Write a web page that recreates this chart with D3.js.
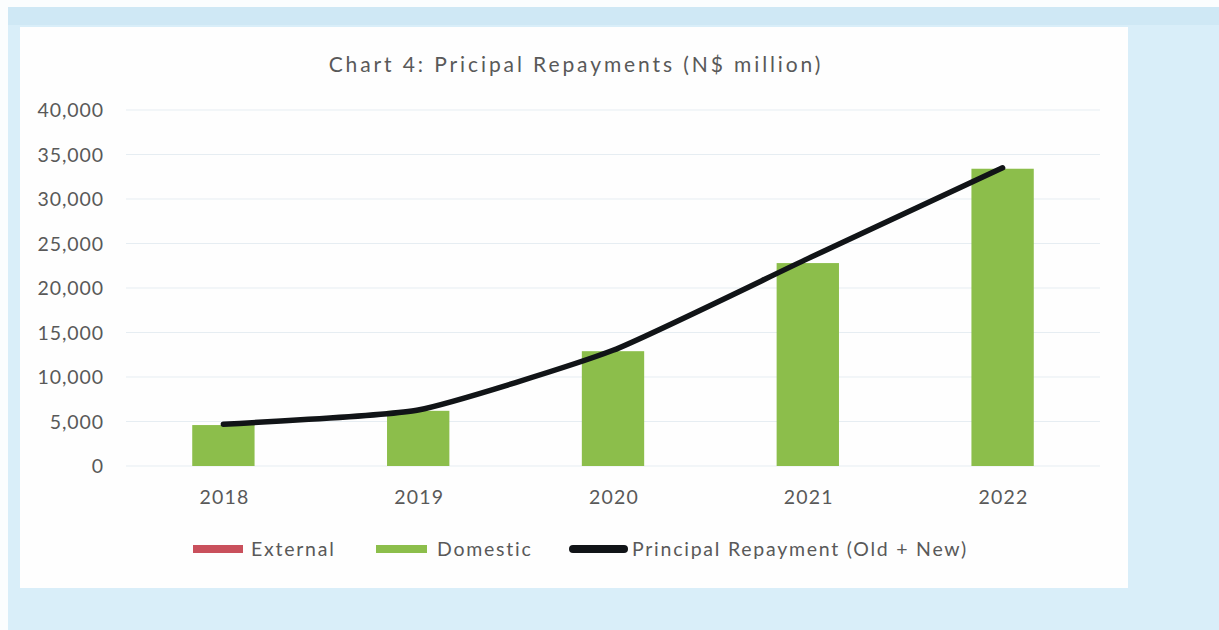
<!DOCTYPE html>
<html>
<head>
<meta charset="utf-8">
<script src="https://cdn.jsdelivr.net/npm/d3@7"></script>
<style>
  html, body { margin: 0; padding: 0; background: #fbfdfe; }
  svg { display: block; }
  text { font-family: Lato, "Open Sans", sans-serif; fill: #595959; }
</style>
</head>
<body>
<svg id="chart" width="1219" height="630"></svg>
<script>
// Principal repayments, N$ million
const years = ["2018", "2019", "2020", "2021", "2022"];
const external = [0, 0, 0, 0, 0];
const domestic = [4600, 6200, 12900, 22800, 33400];
const principalTotal = [4700, 6300, 13000, 23300, 33500];
const yTicks = [0, 5000, 10000, 15000, 20000, 25000, 30000, 35000, 40000];

const svg = d3.select("#chart");

// page backdrop and white chart panel
svg.append("rect").attr("x", 8).attr("y", 7).attr("width", 1211).attr("height", 623).attr("fill", "#d9eef9");
svg.append("rect").attr("x", 8).attr("y", 7).attr("width", 1211).attr("height", 18).attr("fill", "#cfe8f5");
svg.append("rect").attr("x", 20).attr("y", 27).attr("width", 1108).attr("height", 561).attr("fill", "#fefefe");

const plot = { left: 126, right: 1100, top: 110, bottom: 466 };

const x = d3.scaleBand().domain(years).range([plot.left, plot.right])
  .paddingInner(0.68).paddingOuter(0.34);
const y = d3.scaleLinear().domain([0, 40000]).range([plot.bottom, plot.top]);

const labelFont = "19.5px";

// title
svg.append("text").attr("x", 576).attr("y", 72).attr("text-anchor", "middle")
  .style("font-size", "21px").style("letter-spacing", "2.9px")
  .text("Chart 4: Pricipal Repayments (N$ million)");

// gridlines
svg.append("g").selectAll("line").data(yTicks).join("line")
  .attr("x1", plot.left).attr("x2", plot.right)
  .attr("y1", d => y(d)).attr("y2", d => y(d))
  .attr("stroke", "#e6edf2").attr("stroke-width", 1);

// y axis labels
const yAxis = d3.axisLeft(y).tickValues(yTicks).tickFormat(d3.format(",")).tickSize(0).tickPadding(0);
const yg = svg.append("g").attr("transform", `translate(${plot.left - 22},0)`).call(yAxis);
yg.select(".domain").remove();
yg.selectAll("text").style("font-size", labelFont).style("letter-spacing", "0.9px").style("fill", "#595959")
  .style("font-family", "Lato, 'Open Sans', sans-serif").attr("dy", "0.35em");

// stacked bars: domestic then external on top
const stacks = years.map((yr, i) => ({ yr, dom: domestic[i], ext: external[i] }));
svg.append("g").selectAll("rect").data(stacks).join("rect")
  .attr("x", d => x(d.yr)).attr("width", x.bandwidth())
  .attr("y", d => y(d.dom)).attr("height", d => y(0) - y(d.dom))
  .attr("fill", "#8cbe4b");
svg.append("g").selectAll("rect").data(stacks).join("rect")
  .attr("x", d => x(d.yr)).attr("width", x.bandwidth())
  .attr("y", d => y(d.dom + d.ext)).attr("height", d => y(d.dom) - y(d.dom + d.ext))
  .attr("fill", "#c9505c");

// x axis labels
const xAxis = d3.axisBottom(x).tickSize(0).tickPadding(0);
const xg = svg.append("g").attr("transform", `translate(1,${plot.bottom + 31})`).call(xAxis);
xg.select(".domain").remove();
xg.selectAll("text").style("font-size", labelFont).style("letter-spacing", "1.2px").style("fill", "#595959")
  .style("font-family", "Lato, 'Open Sans', sans-serif").attr("dy", "0.35em");

// total principal repayment line
const line = d3.line()
  .x((d, i) => x(years[i]) + x.bandwidth() / 2)
  .y(d => y(d))
  .curve(d3.curveCardinal.tension(0.5));
svg.append("path").datum(principalTotal)
  .attr("d", line).attr("fill", "none")
  .attr("stroke", "#111417").attr("stroke-width", 5.5)
  .attr("stroke-linecap", "round").attr("stroke-linejoin", "round");

// legend
const legY = 549;
const legend = svg.append("g").style("font-size", labelFont).style("letter-spacing", "1.75px");
legend.append("rect").attr("x", 193).attr("y", legY - 4).attr("width", 50).attr("height", 8).attr("fill", "#c9505c");
legend.append("text").attr("x", 251).attr("y", legY).attr("dy", "0.35em").text("External");
legend.append("rect").attr("x", 376).attr("y", legY - 4).attr("width", 51).attr("height", 8).attr("fill", "#8cbe4b");
legend.append("text").attr("x", 437).attr("y", legY).attr("dy", "0.35em").text("Domestic");
legend.append("line").attr("x1", 573).attr("x2", 624).attr("y1", legY).attr("y2", legY)
  .attr("stroke", "#111417").attr("stroke-width", 8).attr("stroke-linecap", "round");
legend.append("text").attr("x", 632).attr("y", legY).attr("dy", "0.35em")
  .text("Principal Repayment (Old + New)");
</script>
</body>
</html>
